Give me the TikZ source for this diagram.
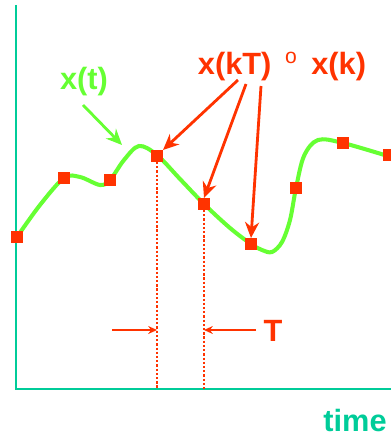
\documentclass[tikz,border=0pt]{standalone}
\usepackage{fontspec}
\setmainfont{Liberation Sans}
\usetikzlibrary{arrows.meta}
\definecolor{axisgreen}{RGB}{0,204,153}
\definecolor{curvegreen}{RGB}{102,255,51}
\definecolor{samplered}{RGB}{255,51,0}

\begin{document}
\begin{tikzpicture}[x=0.02cm,y=-0.02cm]
\useasboundingbox (0,0) rectangle (391,439);
% axes
\coordinate (top) at (16,5);
\coordinate (o) at (16,389);
\coordinate (right) at (391,389);
\draw[axisgreen,line width=1.7pt] (top) -- (o) -- (right);
% the continuous signal
\draw[curvegreen,line width=2.3pt] plot[smooth,tension=0.55] coordinates {
    (17,237) (40,205) (64,178) (80,177) (100,185) (110,180) (124,160)
    (139,146) (157,155) (180,179) (204,204) (230,228) (251,244) (262,250)
    (272,252) (282,242) (290,220) (296,188) (304,156) (318,140) (343,143)
    (391,157)};
\begin{scope}[every node/.style={rectangle,fill=samplered,minimum size=6.8pt,inner sep=0pt,outer sep=0pt}]
    \node (s1) at (17,237) {};
    \node (s2) at (64,178) {};
    \node (s3) at (110,180) {};
    \node (s4) at (157,156) {};
    \node (s5) at (204,204) {};
    \node (s6) at (251,244) {};
    \node (s7) at (296,188) {};
    \node (s8) at (343,143) {};
    \node (s9) at (389,155) {};
\end{scope}
\begin{scope}[every node/.style={font=\bfseries\fontsize{17.5}{20}\selectfont,inner sep=0pt}]
    \node[curvegreen] (xt) at (84,82) {x(t)};
    \node[samplered] (xk) at (282,67) {x(kT)\, \textsuperscript{\fontsize{12}{12}\selectfont\mdseries o}\, x(k)};
    \node[samplered] (T) at (273,331) {T};
    \node[axisgreen] (time) at (355,421) {time};
\end{scope}
% arrow tails
\coordinate (xt1) at (83,105);
\coordinate (xk1) at (238,80);
\coordinate (xk2) at (246,84);
\coordinate (xk3) at (261,86);
\coordinate (tl) at (112,330);
\coordinate (tr) at (256,330);
\begin{scope}[>={Stealth[length=9pt,width=8pt]},
              red_edge/.style={draw=samplered,line width=1.6pt},
              green_edge/.style={draw=curvegreen,line width=1.6pt},
              small_edge/.style={draw=samplered,line width=0.9pt,>={Stealth[length=5pt,width=4.5pt]}},
              dot_edge/.style={draw=samplered,line width=1.5pt,dash pattern=on 1.3pt off 1.1pt}]
    \path [->] (xt1) edge [green_edge] (122,145);
    \path [->] (xk1) edge [red_edge] (s4.north east);
    \path [->] (xk2) edge [red_edge] (s5.north);
    \path [->] (xk3) edge [red_edge] (s6.north);
    \path (s4) edge [dot_edge] (s4 |- o);
    \path (s5) edge [dot_edge] (s5 |- o);
    \path [->] (tl) edge [small_edge] (s4 |- tl);
    \path [->] (tr) edge [small_edge] (s5 |- tr);
\end{scope}
\end{tikzpicture}
\end{document}
